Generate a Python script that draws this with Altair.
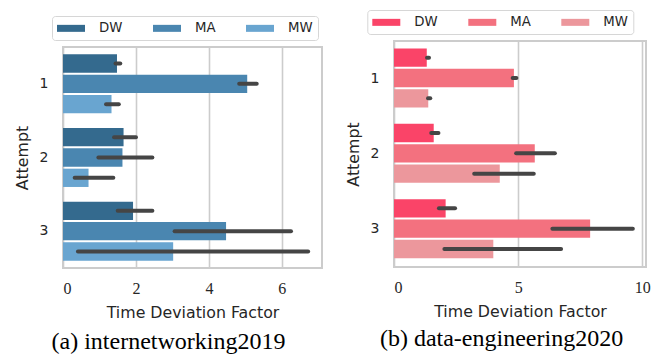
import altair as alt
import pandas as pd

attempts = ["1", "2", "3"]
types = ["DW", "MA", "MW"]

# (a) internetworking2019 : mean time deviation factor and CI bounds per attempt
inet_dw_mean = [1.48, 1.66, 1.92]
inet_ma_mean = [5.05, 1.63, 4.47]
inet_mw_mean = [1.33, 0.70, 3.02]
inet_dw_lo = [1.44, 1.40, 1.50]
inet_dw_hi = [1.57, 2.00, 2.45]
inet_ma_lo = [4.83, 0.97, 3.06]
inet_ma_hi = [5.31, 2.45, 6.25]
inet_mw_lo = [1.18, 0.32, 0.41]
inet_mw_hi = [1.53, 1.38, 6.72]

# (b) data-engineering2020
de_dw_mean = [1.32, 1.60, 2.08]
de_ma_mean = [4.83, 5.67, 7.90]
de_mw_mean = [1.38, 4.26, 4.00]
de_dw_lo = [1.33, 1.50, 1.81]
de_dw_hi = [1.41, 1.79, 2.46]
de_ma_lo = [4.78, 4.92, 6.38]
de_ma_hi = [4.93, 6.48, 9.62]
de_mw_lo = [1.37, 3.23, 2.03]
de_mw_hi = [1.46, 5.63, 6.73]

inet_colors = ["#346a8e", "#4a86b0", "#69a5d0"]
de_colors = ["#fa4468", "#f3717f", "#ec979c"]


def make_df(means, los, his):
    rows = []
    for t, m, lo, hi in zip(types, means, los, his):
        for a, mv, lv, hv in zip(attempts, m, lo, hi):
            rows.append({"Attempt": a, "Type": t, "Mean": mv, "Lo": lv, "Hi": hv})
    return pd.DataFrame(rows)


inet_df = make_df([inet_dw_mean, inet_ma_mean, inet_mw_mean],
                  [inet_dw_lo, inet_ma_lo, inet_mw_lo],
                  [inet_dw_hi, inet_ma_hi, inet_mw_hi])
de_df = make_df([de_dw_mean, de_ma_mean, de_mw_mean],
                [de_dw_lo, de_ma_lo, de_mw_lo],
                [de_dw_hi, de_ma_hi, de_mw_hi])

SANS = "DejaVu Sans"
SERIF = "Liberation Serif"
TXT = "#262626"
LEG_SYMBOL = "M-2,-0.5H2V0.5H-2Z"


def panel(df, colors, xmax, width, height, xticks, caption, leg_x, leg_y,
          cap_dx, cap_offset):
    base = alt.Chart(df)
    xscale = alt.Scale(domain=[0, xmax], nice=False, zero=True)
    bars = base.mark_bar().encode(
        y=alt.Y("Attempt:N", sort=attempts,
                scale=alt.Scale(paddingInner=0.2, paddingOuter=0.1),
                axis=alt.Axis(title="Attempt", labelFont=SANS, labelFontSize=14,
                              labelColor=TXT, labelPadding=15, ticks=False, tickSize=0,
                              domain=False, grid=False, labelAngle=0,
                              titleFont=SANS, titleFontSize=15.8, titleColor=TXT,
                              titleFontWeight="normal", titlePadding=9)),
        yOffset=alt.YOffset("Type:N", sort=types,
                            scale=alt.Scale(paddingInner=0.1, paddingOuter=0)),
        x=alt.X("Mean:Q", scale=xscale,
                axis=alt.Axis(title="Time Deviation Factor", values=xticks,
                              labelFont=SERIF, labelFontSize=16, labelColor=TXT,
                              labelPadding=12, ticks=False, tickSize=0, domain=False,
                              grid=True, gridColor="#cccccc", gridWidth=1.6,
                              titleFont=SANS, titleFontSize=15.8, titleColor=TXT,
                              titleFontWeight="normal", titlePadding=9)),
        color=alt.Color("Type:N", sort=types,
                        scale=alt.Scale(domain=types, range=colors),
                        legend=alt.Legend(orient="none", legendX=leg_x, legendY=leg_y,
                                          direction="horizontal", columns=3, title=None,
                                          symbolType=LEG_SYMBOL, symbolSize=196,
                                          symbolStrokeWidth=0, symbolOffset=7,
                                          labelOffset=21, columnPadding=30, padding=5,
                                          strokeColor="#d6d6d6", cornerRadius=3,
                                          fillColor="white", labelFont=SANS,
                                          labelFontSize=13.3, labelColor=TXT)),
    )
    errs = base.mark_rule(color="#454545", strokeWidth=4, strokeCap="round").encode(
        y=alt.Y("Attempt:N", sort=attempts),
        yOffset=alt.YOffset("Type:N", sort=types),
        x=alt.X("Lo:Q", scale=xscale),
        x2="Hi:Q",
    )
    return alt.layer(bars, errs).properties(
        width=width, height=height,
        title=alt.TitleParams(caption, orient="bottom", anchor="middle", frame="group",
                              dx=cap_dx, offset=cap_offset, font=SERIF, fontSize=24,
                              fontWeight="normal", color="black"),
    )


left = panel(inet_df, inet_colors, 7.1, 259, 221, [0, 2, 4, 6],
             "(a) internetworking2019", -11, -31, -24, 10)
right = panel(de_df, de_colors, 10.15, 252, 226, [0, 5, 10],
              "(b) data-engineering2020", -26.7, -31, -18.5, 8)

# invisible 1px spacer that lowers the left panel by 6px relative to the right one
spacer = alt.Chart(pd.DataFrame({"v": [0]})).mark_point(opacity=0).encode(
    x=alt.value(0), y=alt.value(0)
).properties(width=1, height=1, view=alt.ViewBackground(stroke="transparent"))

left_cell = alt.vconcat(spacer, left, spacing=5, bounds="flush").resolve_scale(
    color="independent").resolve_legend(color="independent")

chart = alt.hconcat(left_cell, right, spacing=21).resolve_scale(
    color="independent").resolve_legend(color="independent").properties(
    padding={"left": 5, "top": 0, "right": 0, "bottom": 0}
).configure_view(stroke="#cccccc", strokeWidth=2)

chart.save("out.html", embed_options={"renderer": "svg", "actions": False})
